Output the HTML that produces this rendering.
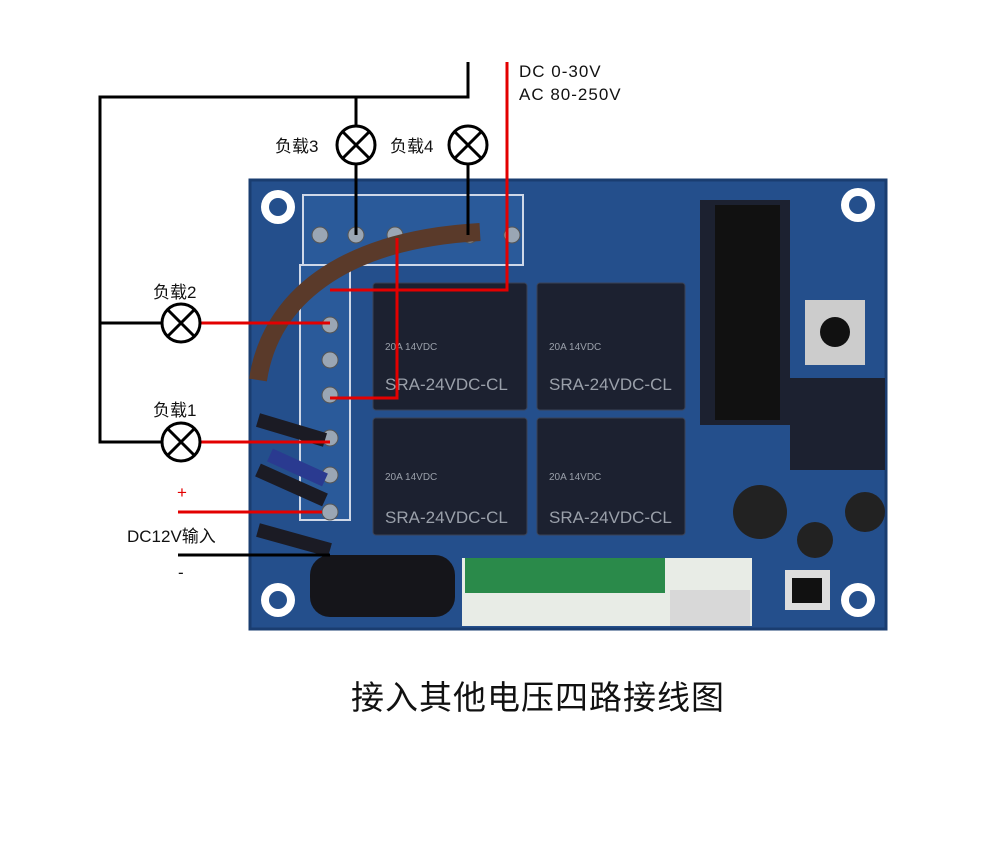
<!DOCTYPE html>
<html><head><meta charset="utf-8"><style>
body{margin:0;background:#fff;width:1000px;height:845px;overflow:hidden;font-family:"Liberation Sans","Noto Sans CJK SC",sans-serif}
</style></head><body>
<svg width="1000" height="845" viewBox="0 0 1000 845" xmlns="http://www.w3.org/2000/svg" style="position:absolute;left:0;top:0">
<rect x="250" y="180" width="636" height="449" fill="#244f8c"/>
<rect x="250" y="180" width="636" height="449" fill="none" stroke="#1a3d70" stroke-width="3"/>
<g fill="#fff"><circle cx="278" cy="207" r="17"/><circle cx="858" cy="205" r="17"/><circle cx="278" cy="600" r="17"/><circle cx="858" cy="600" r="17"/></g>
<g fill="#244f8c"><circle cx="278" cy="207" r="9"/><circle cx="858" cy="205" r="9"/><circle cx="278" cy="600" r="9"/><circle cx="858" cy="600" r="9"/></g>
<rect x="303" y="195" width="220" height="70" fill="#2a5a9a" stroke="#cfd8e8" stroke-width="2"/>
<rect x="300" y="265" width="50" height="255" fill="#2a5a9a" stroke="#cfd8e8" stroke-width="2"/>
<g fill="#9aa6b4" stroke="#555"><circle cx="320" cy="235" r="8"/><circle cx="356" cy="235" r="8"/><circle cx="395" cy="235" r="8"/><circle cx="470" cy="235" r="8"/><circle cx="512" cy="235" r="8"/>
<circle cx="330" cy="325" r="8"/><circle cx="330" cy="360" r="8"/><circle cx="330" cy="395" r="8"/><circle cx="330" cy="438" r="8"/><circle cx="330" cy="475" r="8"/><circle cx="330" cy="512" r="8"/></g>
<path d="M258 380 C270 300 340 240 480 232" stroke="#5a3a2a" stroke-width="18" fill="none"/>
<path d="M258 420 L325 440 M258 470 L325 500 M258 530 L330 550" stroke="#1b1b24" stroke-width="14" fill="none"/>
<path d="M270 455 L325 480" stroke="#2a3a90" stroke-width="14" fill="none"/>
<g fill="#1c2130" stroke="#3a4256"><rect x="373" y="283" width="154" height="127" rx="3"/><rect x="537" y="283" width="148" height="127" rx="3"/><rect x="373" y="418" width="154" height="117" rx="3"/><rect x="537" y="418" width="148" height="117" rx="3"/></g>
<g fill="#9aa0aa" font-size="17"><text x="385" y="390">SRA-24VDC-CL</text><text x="549" y="390">SRA-24VDC-CL</text><text x="385" y="523">SRA-24VDC-CL</text><text x="549" y="523">SRA-24VDC-CL</text>
<text x="385" y="350" font-size="10">20A 14VDC</text><text x="549" y="350" font-size="10">20A 14VDC</text><text x="385" y="480" font-size="10">20A 14VDC</text><text x="549" y="480" font-size="10">20A 14VDC</text></g>
<rect x="700" y="200" width="90" height="225" fill="#1c2130"/>
<rect x="715" y="205" width="65" height="215" fill="#111"/>
<rect x="790" y="378" width="95" height="92" fill="#1c2130"/>
<rect x="805" y="300" width="60" height="65" fill="#ccc"/><circle cx="835" cy="332" r="15" fill="#111"/>
<circle cx="760" cy="512" r="27" fill="#222"/><circle cx="865" cy="512" r="20" fill="#222"/><circle cx="815" cy="540" r="18" fill="#222"/>
<rect x="785" y="570" width="45" height="40" fill="#ddd"/><rect x="792" y="578" width="30" height="25" fill="#111"/>
<rect x="462" y="558" width="290" height="68" fill="#e8ece6"/>
<rect x="465" y="558" width="200" height="35" fill="#2a8a4a"/>
<rect x="670" y="590" width="80" height="36" fill="#d8d8d8"/>
<rect x="310" y="555" width="145" height="62" rx="20" fill="#15151a"/>
<g stroke="#000" stroke-width="3" fill="none">
<path d="M468 62 V97 H100 V442 H162"/>
<path d="M356 97 V126 M356 164 V235"/>
<path d="M468 126 V235"/>
<path d="M100 323 H162"/>
<path d="M178 555 H330"/>
</g>
<g stroke="#e30000" stroke-width="3" fill="none">
<path d="M507 62 V290 H330"/>
<path d="M397 238 V398 H330"/>
<path d="M200 323 H330"/>
<path d="M200 442 H330"/>
<path d="M178 512 H322"/>
</g>
<g stroke="#000" stroke-width="3" fill="#fff">
<circle cx="356" cy="145" r="19"/><circle cx="468" cy="145" r="19"/><circle cx="181" cy="323" r="19"/><circle cx="181" cy="442" r="19"/>
</g>
<g stroke="#000" stroke-width="3">
<path d="M343 132 L369 158 M369 132 L343 158"/><path d="M455 132 L481 158 M481 132 L455 158"/>
<path d="M168 310 L194 336 M194 310 L168 336"/><path d="M168 429 L194 455 M194 429 L168 455"/>
</g>
<g font-size="17" fill="#111">
<text x="275" y="152">负载3</text><text x="390" y="152">负载4</text><text x="153" y="298">负载2</text><text x="153" y="416">负载1</text>
<text x="519" y="77" letter-spacing="1">DC 0-30V</text><text x="519" y="100" letter-spacing="1">AC 80-250V</text>
<text x="127" y="542">DC12V输入</text>
<text x="177" y="498" fill="#e30000">+</text><text x="178" y="578">-</text>
</g>
<text x="538" y="709" font-size="33" text-anchor="middle" fill="#111" letter-spacing="1">接入其他电压四路接线图</text>
</svg>
</body></html>
